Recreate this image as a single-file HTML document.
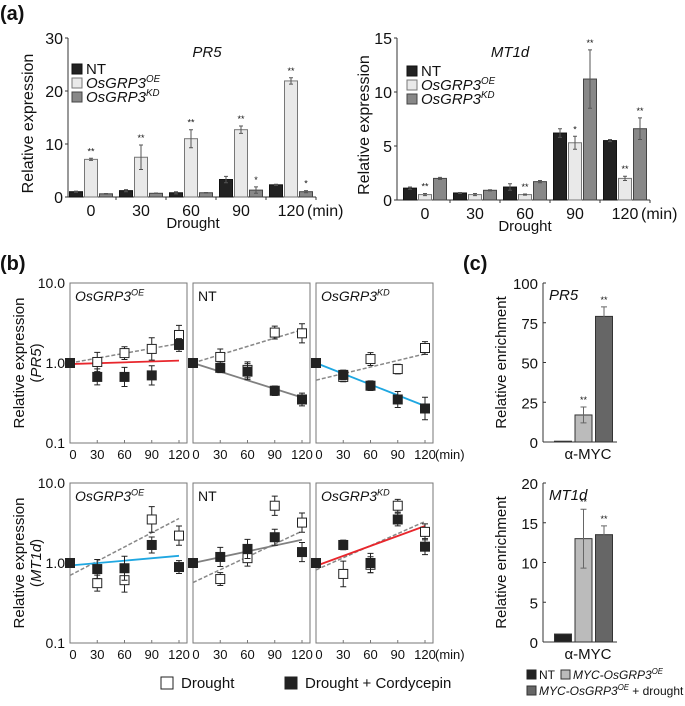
<!DOCTYPE html>
<html><head><meta charset="utf-8">
<style>
html,body{margin:0;padding:0;background:#fff;}
svg{display:block;font-family:"Liberation Sans",Arial,sans-serif;}
</style></head>
<body>
<svg id="fig" width="685" height="706" viewBox="0 0 685 706" xmlns="http://www.w3.org/2000/svg"></svg>
<script>
// ---------- Panel (a) data ----------
const aTimes = ['0','30','60','90','120'];
const aPR5_NT = [1.0, 1.2, 0.8, 3.3, 2.3];
const aPR5_OE = [7.1, 7.5, 11.0, 12.7, 21.9];
const aPR5_KD = [0.6, 0.7, 0.8, 1.3, 1.0];
const aPR5_NT_err = [0.1, 0.2, 0.2, 0.6, 0.1];
const aPR5_OE_err = [0.2, 2.3, 1.7, 0.7, 0.6];
const aPR5_KD_err = [0.05, 0.05, 0.05, 0.6, 0.2];
const aPR5_OE_sig = ['**','**','**','**','**'];
const aPR5_KD_sig = ['','','','*','*'];
const aPR5_ticks = [0, 10, 20, 30];

const aMT_NT = [1.1, 0.65, 1.2, 6.2, 5.5];
const aMT_OE = [0.5, 0.5, 0.5, 5.3, 2.0];
const aMT_KD = [2.0, 0.9, 1.7, 11.2, 6.6];
const aMT_NT_err = [0.1, 0.05, 0.3, 0.4, 0.1];
const aMT_OE_err = [0.1, 0.1, 0.05, 0.6, 0.2];
const aMT_KD_err = [0.1, 0.05, 0.1, 2.7, 1.0];
const aMT_OE_sig = ['**','','**','*','**'];
const aMT_KD_sig = ['','','','**','**'];
const aMT_ticks = [0, 5, 10, 15];

// ---------- Panel (b) data (log scale) ----------
const bTimes = [0, 30, 60, 90, 120];
const bTickLabels = ['0','30','60','90','120'];
const bYTicks = ['10.0','1.0','0.1'];
const bPanelNames = ['OsGRP3', 'NT', 'OsGRP3'];
const bPanelSups = ['OE', '', 'KD'];
// PR5 row
const bPR5_open = [[1,1.03,1.33,1.5,2.24],[1,1.19,0.82,2.4,2.35],[1,0.67,1.12,0.84,1.54]];
const bPR5_fill = [[1,0.67,0.67,0.7,1.68],[1,0.87,0.78,0.45,0.35],[1,0.71,0.52,0.35,0.27]];
const bPR5_openErr = [[0,0.12,0.08,0.14,0.12],[0,0.1,0.1,0.08,0.12],[0,0.06,0.08,0.06,0.08]];
const bPR5_fillErr = [[0,0.1,0.12,0.12,0.08],[0,0.06,0.1,0.06,0.08],[0,0.06,0.06,0.1,0.14]];
const bPR5_openFit = [[1.0,1.75],[1.0,2.6],[0.61,1.3]];
const bPR5_fillFit = [[0.97,1.07],[1.0,0.37],[1.0,0.29]];
const bPR5_fitColor = ['#e8262c','#808080','#1fa7e1'];
// MT1d row
const bMT_open = [[1,0.56,0.61,3.5,2.2],[1,0.63,1.15,5.2,3.2],[1,0.73,0.95,5.2,2.45]];
const bMT_fill = [[1,0.84,0.86,1.68,0.89],[1,1.19,1.5,2.1,1.37],[1,1.68,1.0,3.5,1.6]];
const bMT_openErr = [[0,0.1,0.15,0.16,0.12],[0,0.08,0.1,0.12,0.12],[0,0.16,0.1,0.08,0.1]];
const bMT_fillErr = [[0,0.12,0.15,0.1,0.08],[0,0.12,0.12,0.1,0.12],[0,0.06,0.12,0.08,0.1]];
const bMT_openFit = [[0.7,3.6],[0.57,2.5],[0.82,3.3]];
const bMT_fillFit = [[0.93,1.23],[1.0,1.95],[0.92,2.9]];
const bMT_fitColor = ['#1fa7e1','#808080','#e8262c'];

// ---------- Panel (c) data ----------
const cSeries = ['NT','MYC-OsGRP3OE','MYC-OsGRP3OE + drought'];
const cPR5 = [0.5, 17, 79];
const cPR5_err = [0, 5, 6];
const cPR5_sig = ['','**','**'];
const cPR5_ticks = [0,25,50,75,100];
const cMT = [1.0, 13.0, 13.5];
const cMT_err = [0, 3.7, 1.1];
const cMT_sig = ['','**','**'];
const cMT_ticks = [0,5,10,15,20];

const NS = 'http://www.w3.org/2000/svg';
const svg = document.getElementById('fig');
function mk(tag, attrs, name, parent, text) {
  const el = document.createElementNS(NS, tag);
  for (const k in attrs) el.setAttribute(k, attrs[k]);
  
  
  if (text !== undefined) el.textContent = text;
  (parent || svg).appendChild(el);
  return el;
}
function txt(x, y, s, name, opts) {
  opts = opts || {};
  const a = {x: x, y: y, 'font-size': opts.size || 13, fill: '#111', 'text-anchor': opts.anchor || 'start'};
  if (opts.italic) a['font-style'] = 'italic';
  if (opts.bold) a['font-weight'] = 'bold';
  if (opts.transform) a.transform = opts.transform;
  return mk('text', a, name, opts.parent, s);
}
function supText(x, y, base, sup, name, size, anchor) {
  const t = mk('text', {x: x, y: y, 'font-size': size, fill: '#111', 'font-style': 'italic', 'text-anchor': anchor || 'start'}, name);
  const s1 = document.createElementNS(NS, 'tspan'); s1.textContent = base; t.appendChild(s1);
  const s2 = document.createElementNS(NS, 'tspan');
  s2.setAttribute('dy', -size * 0.4); s2.setAttribute('font-size', size * 0.65);
  s2.textContent = sup; t.appendChild(s2);
  return t;
}

// panel labels
txt(0, 20, '(a)', 'panel-a-label', {size: 20, bold: true});
txt(0, 270, '(b)', 'panel-b-label', {size: 20, bold: true});
txt(463, 270, '(c)', 'panel-c-label', {size: 20, bold: true});

// ---------- bar chart (a) ----------
function barChart(o) {
  const g = mk('g', {}, o.name);
  const y = v => o.y0 - v * (o.y0 - o.yTop) / o.max;
  const x = i => o.x0 + i * 50;
  mk('line', {x1: o.axX, y1: o.yTop, x2: o.axX, y2: o.y0, stroke: '#333', 'stroke-width': 1}, 'y-axis', g);
  mk('line', {x1: o.axX, y1: o.y0, x2: o.axEnd, y2: o.y0, stroke: '#333', 'stroke-width': 1}, 'x-axis', g);
  o.ticks.forEach(t => {
    mk('line', {x1: o.axX - 3, y1: y(t), x2: o.axX, y2: y(t), stroke: '#333'}, 'y-tick', g);
    txt(o.axX - 5, y(t) + 6, String(t), 'y-tick-label', {size: 16, anchor: 'end', parent: g});
  });
  aTimes.forEach((t, i) => {
    txt(x(i), o.y0 + 19, t, 'x-tick-label', {size: 16, anchor: 'middle', parent: g});
    mk('line', {x1: x(i) + 25, y1: o.y0, x2: x(i) + 25, y2: o.y0 + 3, stroke: '#333'}, 'x-tick', g);
  });
  txt(x(4) + 16, o.y0 + 19, '(min)', 'x-unit-label', {size: 16, parent: g});
  txt(o.droughtX, o.y0 + 31, 'Drought', 'x-axis-title', {size: 15, anchor: 'middle', parent: g});
  const cy = (o.y0 + o.yTop) / 2 + 6;
  txt(o.yLabX, cy, 'Relative expression', 'y-axis-title', {size: 16, anchor: 'middle', transform: 'rotate(-90 ' + o.yLabX + ' ' + cy + ')', parent: g});
  txt(o.titleX, o.yTop + 19, o.title, 'chart-title', {size: 15, italic: true, anchor: 'middle', parent: g});
  const series = [[o.NT, o.NTe, '#222', '#111', null, 'bar-nt'], [o.OE, o.OEe, '#e9e9e9', '#777', o.OEs, 'bar-oe'], [o.KD, o.KDe, '#888', '#444', o.KDs, 'bar-kd']];
  series.forEach((s, k) => {
    s[0].forEach((v, i) => {
      const cx = x(i) + (k - 1) * 15;
      mk('rect', {x: cx - 6.5, y: y(v), width: 13, height: o.y0 - y(v), fill: s[2], stroke: s[3], 'stroke-width': 1}, s[5], g);
      const e = s[1][i];
      mk('path', {d: `M${cx} ${y(v + e)}V${y(v - e)}M${cx - 2} ${y(v + e)}H${cx + 2}M${cx - 2} ${y(v - e)}H${cx + 2}`, stroke: '#555', fill: 'none'}, 'error-bar', g);
      if (s[4] && s[4][i]) txt(cx, y(v + e) - 4, s[4][i], 'significance-mark', {size: 9, anchor: 'middle', parent: g});
    });
  });
  const lg = [['NT', '', '#222', '#111'], ['OsGRP3', 'OE', '#e9e9e9', '#777'], ['OsGRP3', 'KD', '#888', '#444']];
  lg.forEach((l, k) => {
    const ly = o.legY + k * 14;
    mk('rect', {x: o.legX, y: ly - 5, width: 10, height: 10, fill: l[2], stroke: l[3]}, 'legend-swatch', g);
    if (l[1]) supText(o.legX + 14, ly + 5, l[0], l[1], 'legend-entry', 15);
    else txt(o.legX + 14, ly + 5, l[0], 'legend-entry', {size: 15, parent: g});
  });
}
barChart({name: 'chart-a-pr5', x0: 91, axX: 68, axEnd: 316, y0: 197, yTop: 38, max: 30, ticks: aPR5_ticks,
  NT: aPR5_NT, OE: aPR5_OE, KD: aPR5_KD, NTe: aPR5_NT_err, OEe: aPR5_OE_err, KDe: aPR5_KD_err, OEs: aPR5_OE_sig, KDs: aPR5_KD_sig,
  title: 'PR5', titleX: 207, droughtX: 193, yLabX: 33, legX: 72, legY: 69});
barChart({name: 'chart-a-mt1d', x0: 425, axX: 397, axEnd: 650, y0: 200, yTop: 38, max: 15, ticks: aMT_ticks,
  NT: aMT_NT, OE: aMT_OE, KD: aMT_KD, NTe: aMT_NT_err, OEe: aMT_OE_err, KDe: aMT_KD_err, OEs: aMT_OE_sig, KDs: aMT_KD_sig,
  title: 'MT1d', titleX: 510, droughtX: 525, yLabX: 369, legX: 407, legY: 71});

// ---------- panel (b) ----------
const bLefts = [70, 193, 316];
function bRow(o) {
  const g = mk('g', {}, o.name);
  const y = v => o.y1 - Math.log10(v) * 80;
  bYTicks.forEach((t, k) => txt(65, o.y1 - 80 + k * 80 + 5, t, 'y-tick-label', {size: 14, anchor: 'end', parent: g}));
  const cy = o.y1;
  txt(24, cy, 'Relative expression', 'y-axis-title', {size: 15, anchor: 'middle', transform: `rotate(-90 24 ${cy})`, parent: g});
  const gl = mk('text', {x: 41, y: cy, 'font-size': 15, fill: '#111', 'text-anchor': 'middle', transform: `rotate(-90 41 ${cy})`}, 'y-axis-subtitle', g);
  gl.appendChild(document.createTextNode('('));
  const it = document.createElementNS(NS, 'tspan'); it.setAttribute('font-style', 'italic'); it.textContent = o.gene; gl.appendChild(it);
  gl.appendChild(document.createTextNode(')'));
  bLefts.forEach((L, p) => {
    const x = t => L + t * 109 / 120;
    mk('rect', {x: L, y: o.y1 - 80, width: 117, height: 160, fill: 'none', stroke: '#777', 'stroke-width': 1}, 'panel-frame', g);
    if (bPanelSups[p]) supText(L + 5, o.y1 - 62, bPanelNames[p], bPanelSups[p], 'panel-title', 14);
    else txt(L + 5, o.y1 - 62, bPanelNames[p], 'panel-title', {size: 14, parent: g});
    bTimes.forEach((t, i) => {
      mk('line', {x1: x(t), y1: o.y1 + 80, x2: x(t), y2: o.y1 + 77, stroke: '#777'}, 'x-tick', g);
      if (o.labels) txt(x(t) + (i === 0 ? 3 : 0), o.y1 + 96, bTickLabels[i], 'x-tick-label', {size: 13, anchor: 'middle', parent: g});
    });
    mk('line', {x1: x(0), y1: y(o.openFit[p][0]), x2: x(120), y2: y(o.openFit[p][1]), stroke: '#888', 'stroke-width': 1.5, 'stroke-dasharray': '4,2'}, 'fit-line-drought', g);
    mk('line', {x1: x(0), y1: y(o.fillFit[p][0]), x2: x(120), y2: y(o.fillFit[p][1]), stroke: o.colors[p], 'stroke-width': 1.8}, 'fit-line-cordycepin', g);
    [[o.open[p], o.openErr[p], '#fff', 'point-drought'], [o.fill[p], o.fillErr[p], '#222', 'point-cordycepin']].forEach(s => {
      s[0].forEach((v, i) => {
        const px = x(bTimes[i]), py = y(v), e = s[1][i] * 80;
        if (e > 0) mk('path', {d: `M${px} ${py - e}V${py + e}M${px - 3} ${py - e}H${px + 3}M${px - 3} ${py + e}H${px + 3}`, stroke: '#222', fill: 'none'}, 'error-bar', g);
        mk('rect', {x: px - 4.5, y: py - 4.5, width: 9, height: 9, fill: s[2], stroke: '#222', 'stroke-width': 1}, s[3], g);
      });
    });
  });
  if (o.labels) txt(435, o.y1 + 96, '(min)', 'x-unit-label', {size: 13, parent: g});
}
bRow({name: 'chart-b-pr5', y1: 363, gene: 'PR5', open: bPR5_open, fill: bPR5_fill, openErr: bPR5_openErr, fillErr: bPR5_fillErr, openFit: bPR5_openFit, fillFit: bPR5_fillFit, colors: bPR5_fitColor, labels: true});
bRow({name: 'chart-b-mt1d', y1: 563, gene: 'MT1d', open: bMT_open, fill: bMT_fill, openErr: bMT_openErr, fillErr: bMT_fillErr, openFit: bMT_openFit, fillFit: bMT_fillFit, colors: bMT_fitColor, labels: true});
mk('rect', {x: 161, y: 677, width: 12, height: 12, fill: '#fff', stroke: '#222'}, 'legend-swatch-drought', svg);
txt(181, 688, 'Drought', 'legend-entry-drought', {size: 15});
mk('rect', {x: 285, y: 677, width: 12, height: 12, fill: '#222', stroke: '#222'}, 'legend-swatch-cordycepin', svg);
txt(305, 688, 'Drought + Cordycepin', 'legend-entry-cordycepin', {size: 15});

// ---------- panel (c) ----------
function cChart(o) {
  const g = mk('g', {}, o.name);
  const y = v => o.y0 - v * (o.y0 - o.yTop) / o.max;
  mk('line', {x1: 543, y1: o.yTop, x2: 543, y2: o.y0, stroke: '#333'}, 'y-axis', g);
  mk('line', {x1: 543, y1: o.y0, x2: 617, y2: o.y0, stroke: '#333'}, 'x-axis', g);
  o.ticks.forEach(t => {
    mk('line', {x1: 543, y1: y(t), x2: 546, y2: y(t), stroke: '#333'}, 'y-tick', g);
    txt(538, y(t) + 6, String(t), 'y-tick-label', {size: 15, anchor: 'end', parent: g});
  });
  txt(506, (o.y0 + o.yTop) / 2, 'Relative enrichment', 'y-axis-title', {size: 15, anchor: 'middle', transform: `rotate(-90 506 ${(o.y0 + o.yTop) / 2})`, parent: g});
  txt(549, o.yTop + 17, o.title, 'chart-title', {size: 15, italic: true, parent: g});
  txt(588, o.y0 + 17, 'α-MYC', 'x-tick-label', {size: 15, anchor: 'middle', parent: g});
  const cols = ['#222', '#bbb', '#666'];
  o.vals.forEach((v, i) => {
    const cx = 563 + i * 20.5;
    mk('rect', {x: cx - 8.5, y: y(v), width: 17, height: o.y0 - y(v), fill: cols[i], stroke: '#333'}, 'bar-' + i, g);
    const e = o.err[i];
    if (e > 0) mk('path', {d: `M${cx} ${y(v + e)}V${y(v - e)}M${cx - 3} ${y(v + e)}H${cx + 3}M${cx - 3} ${y(v - e)}H${cx + 3}`, stroke: '#666', fill: 'none'}, 'error-bar', g);
    if (o.sig[i]) txt(cx, y(v + e) - 4, o.sig[i], 'significance-mark', {size: 9, anchor: 'middle', parent: g});
  });
}
cChart({name: 'chart-c-pr5', y0: 442, yTop: 283, max: 100, ticks: cPR5_ticks, vals: cPR5, err: cPR5_err, sig: cPR5_sig, title: 'PR5'});
cChart({name: 'chart-c-mt1d', y0: 642, yTop: 483, max: 20, ticks: cMT_ticks, vals: cMT, err: cMT_err, sig: cMT_sig, title: 'MT1d'});
mk('rect', {x: 527, y: 670, width: 9, height: 9, fill: '#222', stroke: '#222'}, 'legend-swatch-nt', svg);
txt(539, 679, 'NT', 'legend-entry-nt', {size: 12});
mk('rect', {x: 561, y: 670, width: 9, height: 9, fill: '#bbb', stroke: '#333'}, 'legend-swatch-myc-oe', svg);
supText(573, 679, 'MYC-OsGRP3', 'OE', 'legend-entry-myc-oe', 12);
mk('rect', {x: 527, y: 686, width: 9, height: 9, fill: '#666', stroke: '#333'}, 'legend-swatch-myc-oe-drought', svg);
const lt = supText(539, 695, 'MYC-OsGRP3', 'OE', 'legend-entry-myc-oe-drought', 12);
const tail = document.createElementNS(NS, 'tspan'); tail.setAttribute('dy', 12 * 0.4); tail.setAttribute('font-style', 'normal'); tail.textContent = ' + drought'; lt.appendChild(tail);
</script>
</body></html>
